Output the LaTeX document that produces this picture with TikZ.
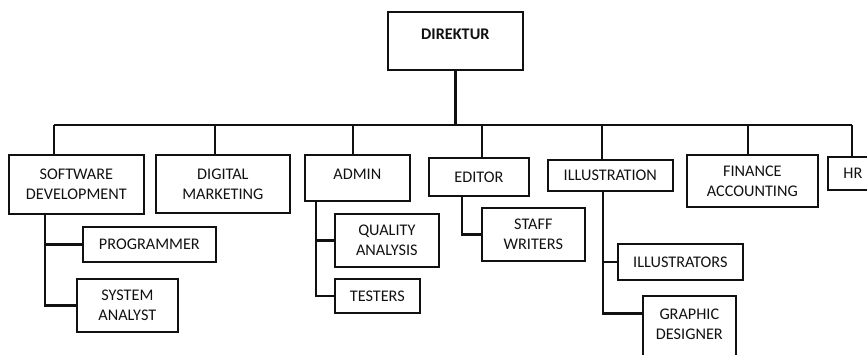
\documentclass[tikz,border=0pt]{standalone}
\usepackage{fontspec}
\setmainfont{Carlito}
\definecolor{ink}{HTML}{111111}
\tikzset{
  unit/.style={draw=ink,line width=1.7bp,anchor=north west,inner sep=1bp,
    align=center,text=ink,font=\fontsize{16.3}{20}\selectfont},
  link/.style={draw=ink,line width=2.7bp}}

\begin{document}
\begin{tikzpicture}[x=1bp,y=-1bp]
\useasboundingbox (0,0) rectangle (867,354);
% head of the company
\node[unit,minimum width=135bp,minimum height=58bp,text depth=14bp,
  font=\fontsize{16.3}{20}\selectfont\bfseries] (dir) at (387,11) {DIREKTUR};
% divisions
\node[unit,minimum width=135bp,minimum height=59bp] (soft) at (8,154) {SOFTWARE\\DEVELOPMENT};
\node[unit,minimum width=134bp,minimum height=58bp] (digi) at (155,154) {DIGITAL\\MARKETING};
\node[unit,minimum width=105bp,minimum height=46bp,text depth=8bp] (admin) at (304,154) {ADMIN};
\node[unit,minimum width=100bp,minimum height=38bp] (edit) at (428,157) {EDITOR};
\node[unit,minimum width=125bp,minimum height=31bp] (illus) at (547,159) {ILLUSTRATION};
\node[unit,minimum width=131bp,minimum height=52bp] (fin) at (686,154) {FINANCE\\ACCOUNTING};
\node[unit,minimum width=50bp,minimum height=33bp] (hr) at (827,156) {HR};
% staff under the divisions
\node[unit,minimum width=133bp,minimum height=35bp] (prog) at (82,226) {PROGRAMMER};
\node[unit,minimum width=101bp,minimum height=53bp] (sys) at (76,278) {SYSTEM\\ANALYST};
\node[unit,minimum width=104bp,minimum height=53bp] (qa) at (334,213) {QUALITY\\ANALYSIS};
\node[unit,minimum width=85bp,minimum height=34bp] (test) at (334,278) {TESTERS};
\node[unit,minimum width=103bp,minimum height=53bp] (staff) at (481,207) {STAFF\\WRITERS};
\node[unit,minimum width=125bp,minimum height=36bp] (illu) at (617,243) {ILLUSTRATORS};
\node[unit,minimum width=93bp,minimum height=67bp,text depth=11bp] (gd) at (642,295) {GRAPHIC\\DESIGNER};
% main bus
\coordinate (busL) at (54,125);
\coordinate (busR) at (852,125);
\draw[link] (dir.south) -- (dir.south |- busL);
\draw[link] (busL) -- (busR);
\foreach \n/\x in {soft/54,digi/215,admin/353,edit/482,illus/602,fin/748,hr/852}
  \draw[link] (\x,125) -- (\x,0 |- \n.north);
% branches
\draw[link] (45,0 |- soft.south) |- (prog.west);
\draw[link] (45,0 |- soft.south) |- (sys.west);
\draw[link] (316,0 |- admin.south) |- (qa.west);
\draw[link] (316,0 |- admin.south) |- (test.west);
\draw[link] (462,0 |- edit.south) |- (staff.west);
\draw[link] (603,0 |- illus.south) |- (illu.west);
\draw[link] (603,0 |- illus.south) |- ([yshift=16bp]gd.west);
\end{tikzpicture}
\end{document}
